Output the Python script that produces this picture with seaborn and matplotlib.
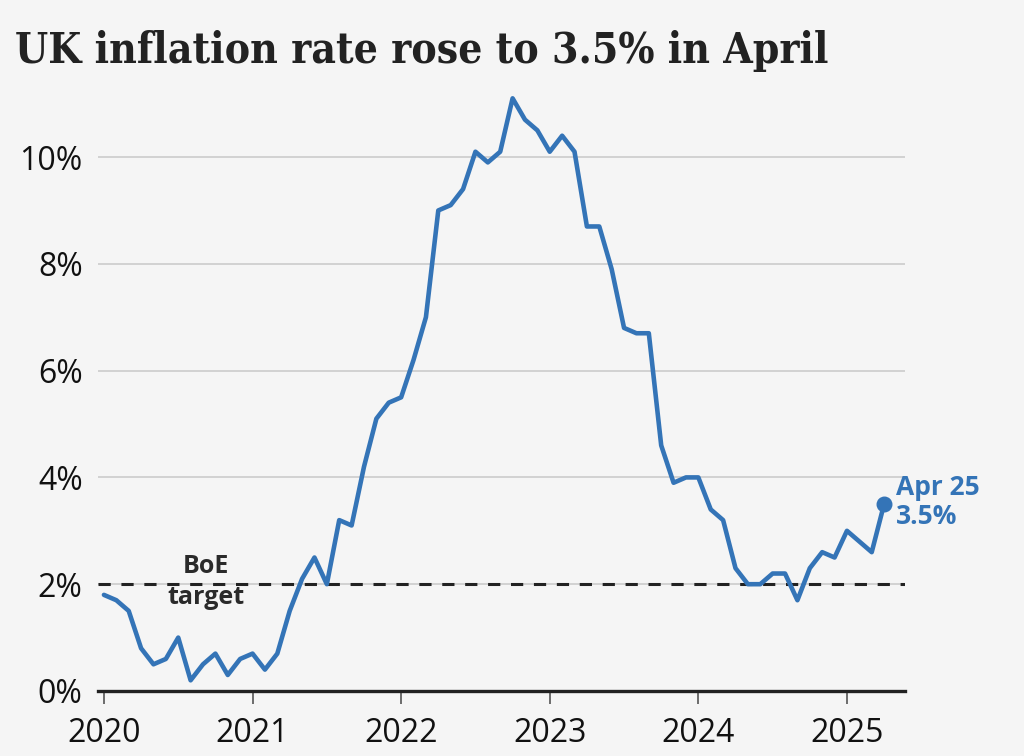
import numpy as np
import pandas as pd
import matplotlib
matplotlib.use('Agg')
import matplotlib.pyplot as plt
import seaborn as sns

# monthly CPI inflation, Jan 2020 - Apr 2025
cpi_2020 = [1.8, 1.7, 1.5, 0.8, 0.5, 0.6, 1.0, 0.2, 0.5, 0.7, 0.3, 0.6]
cpi_2021 = [0.7, 0.4, 0.7, 1.5, 2.1, 2.5, 2.0, 3.2, 3.1, 4.2, 5.1, 5.4]
cpi_2022 = [5.5, 6.2, 7.0, 9.0, 9.1, 9.4, 10.1, 9.9, 10.1, 11.1, 10.7, 10.5]
cpi_2023 = [10.1, 10.4, 10.1, 8.7, 8.7, 7.9, 6.8, 6.7, 6.7, 4.6, 3.9, 4.0]
cpi_2024 = [4.0, 3.4, 3.2, 2.3, 2.0, 2.0, 2.2, 2.2, 1.7, 2.3, 2.6, 2.5]
cpi_2025 = [3.0, 2.8, 2.6, 3.5]
boe_target = 2.0
year_ticks = [2020, 2021, 2022, 2023, 2024, 2025]
pct_ticks = [0, 2, 4, 6, 8, 10]

rate = cpi_2020 + cpi_2021 + cpi_2022 + cpi_2023 + cpi_2024 + cpi_2025
df = pd.DataFrame({'t': 2020 + np.arange(len(rate)) / 12, 'rate': rate})

blue = '#3474b7'
bg = '#f5f5f5'

sns.set_style('white')
plt.rcParams['font.family'] = ['Open Sans', 'DejaVu Sans']
plt.rcParams['xtick.direction'] = 'out'

fig = plt.figure(figsize=(10.24, 7.56), dpi=100, facecolor=bg)
ax = fig.add_axes([0.0957, 0.086, 0.788, 0.791])
ax.set_facecolor(bg)

for v in pct_ticks[1:]:
    ax.axhline(v, color='#cccccc', lw=1.2, zorder=0)
ax.axhline(boe_target, color='#222222', lw=2.2, ls=(0, (4, 3.5)), zorder=1)

sns.lineplot(data=df, x='t', y='rate', color=blue, lw=3.3, ax=ax, zorder=3)
last = df.iloc[-1]
ax.scatter([last['t']], [last['rate']], s=110, color=blue, zorder=4)
ax.text(last['t'] + 0.08, last['rate'] + 0.57, 'Apr 25\n3.5%', color=blue,
        fontsize=19, fontweight='bold', va='top', ha='left', linespacing=1.12)

ax.text(2020.685, boe_target + 0.1, 'BoE', ha='center', va='bottom',
        fontsize=18, fontweight='bold', color='#2a2a2a')
ax.text(2020.685, boe_target - 0.02, 'target', ha='center', va='top',
        fontsize=18, fontweight='bold', color='#2a2a2a')

ax.set_xlim(2019.96, 2025.39)
ax.set_ylim(0, 11.2)
ax.set_xticks(year_ticks)
ax.set_xticklabels([str(y) for y in year_ticks])
ax.set_yticks(pct_ticks)
ax.set_yticklabels([f'{v}%' for v in pct_ticks])
ax.tick_params(axis='x', bottom=True, direction='out', length=9.5, width=1.2,
               color='#555555', labelsize=23, labelcolor='#111111', pad=9)
ax.tick_params(axis='y', left=False, length=0, labelsize=23,
               labelcolor='#111111', pad=11)
ax.set_xlabel('')
ax.set_ylabel('')

sns.despine(ax=ax, left=True)
ax.spines['bottom'].set_linewidth(2.4)
ax.spines['bottom'].set_color('#222222')

fig.text(0.0146, 0.917, 'UK inflation rate rose to 3.5% in April',
         family=['DejaVu Serif'], stretch='condensed', fontweight='bold',
         fontsize=30.5, color='#222222', va='baseline')

fig.savefig('out.png', dpi=100, facecolor=bg)
